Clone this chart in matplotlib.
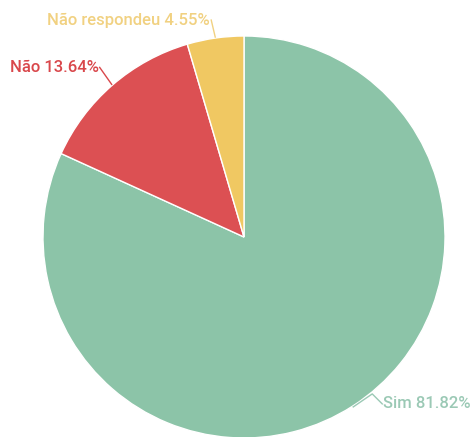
import numpy as np
import matplotlib.pyplot as plt

labels = ["Sim", "Não", "Não respondeu"]
values = [81.82, 13.64, 4.55]
colors = ["#8cc4a8", "#dc5053", "#f0c862"]
text_colors = ["#9bc9b5", "#d9474b", "#f1d181"]

plt.rcParams['font.family'] = ['Roboto', 'DejaVu Sans']

fig = plt.figure(figsize=(4.7, 4.37), dpi=100)
ax = fig.add_axes([0, 0, 1, 1])

cx, cy, r = 244, 200, 201
wedges, _ = ax.pie(values, colors=colors, startangle=90, counterclock=False,
                   center=(cx, cy), radius=r, frame=True,
                   wedgeprops=dict(edgecolor='white', linewidth=1))
ax.set_xlim(0, 470)
ax.set_ylim(0, 437)
ax.set_aspect('equal')
ax.axis('off')

# leader line kinks (offsets in px) per slice
kinks = [[(19, 13), (10, -10)], [(-12, 17)], [(-4, 17)]]
aligns = ['left', 'right', 'right']

for w, lab, v, tc, k, ha in zip(wedges, labels, values, text_colors, kinks, aligns):
    ang = np.deg2rad((w.theta1 + w.theta2) / 2)
    pts = [(cx + (r + 1) * np.cos(ang), cy + (r + 1) * np.sin(ang))]
    for dx, dy in k:
        pts.append((pts[-1][0] + dx, pts[-1][1] + dy))
    xs, ys = zip(*pts)
    ax.plot(xs, ys, color=tc, lw=1)
    tx = xs[-1] + (1 if ha == 'left' else -1)
    ax.text(tx, ys[-1], f"{lab} {v:.2f}%", color=tc, ha=ha, va='center',
            fontsize=12, fontweight='medium')

fig.savefig("out.png", dpi=100)
